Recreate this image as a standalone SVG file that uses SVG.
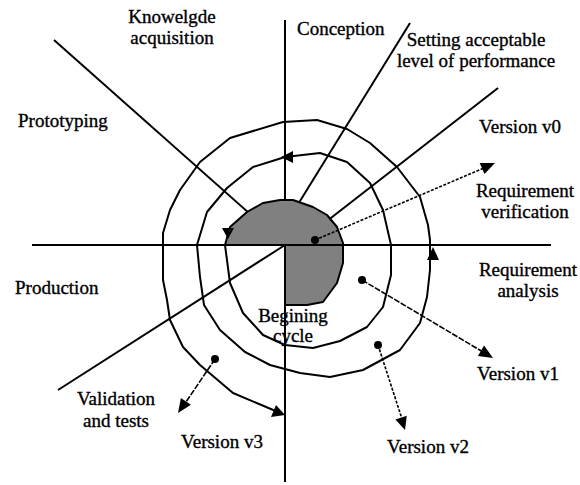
<svg xmlns="http://www.w3.org/2000/svg" width="580" height="485" viewBox="0 0 580 485">
<style>
  .ax { stroke:#000; stroke-width:2; fill:none; stroke-linecap:butt; }
  .ring { stroke:#000; stroke-width:2; fill:none; stroke-linejoin:round; }
  .dot { fill:#000; }
  .head { fill:#000; stroke:none; }
  .lead { stroke:#000; stroke-width:1.6; fill:none; }
  .dashed { stroke-dasharray:3 1.5; }
  .dashed2 { stroke-dasharray:6 1.5; }
  .lbl { font-family:"Liberation Serif","Times New Roman",serif; font-size:19px; fill:#000; stroke:#000; stroke-width:0.35; }
  .c { text-anchor:middle; }
</style>
<rect width="580" height="485" fill="#fff"/>
<g id="axes">
  <line class="ax" x1="285" y1="20" x2="285" y2="482"/>
  <line class="ax" x1="54" y1="40" x2="285" y2="245"/>
  <line class="ax" x1="410" y1="23" x2="292" y2="214"/>
  <line class="ax" x1="498" y1="88" x2="318" y2="228"/>
  <line class="ax" x1="58" y1="390" x2="285" y2="245"/>
</g>
<g id="spiral">
  <polyline class="ring" points="225,245 230,283 243,313 263,335 285,345 313,348 340,341 367,327 383,307 391,275 391,245 383,210 370,183 347,162 320,153 285,157 253,167 227,188 207,212 197,245 200,277 204,305 220,330 245,352 270,365 300,373 330,377 363,370 400,350 420,323 427,297 430,270 430,240 428,225 420,197 397,167 370,143 347,129 317,120 283,122 230,138 200,162 180,190 170,210 163,233 163,280 167,300 170,320 183,347 200,365 233,393 278,412"/>
</g>
<g id="begin-core">
  <path d="M285,245 L225,245 L230,227 L247,212 L263,203 L280,200 L293,200 L313,207 L327,215 L337,227 L343,243 L343,263 L337,283 L323,302 L307,305 L285,305 Z" fill="#808080" stroke="#000" stroke-width="2" stroke-linejoin="round"/>
</g>
<g id="axis-h">
  <line class="ax" x1="32" y1="245" x2="551" y2="245"/>
</g>
<g id="spiral-arrows">
  <polygon class="head" points="228,239 222,228 234,228"/>
  <polygon class="head" points="281,157 293,151 293,163"/>
  <polygon class="head" points="433,247 427,260 439,260"/>
  <polygon class="head" points="285,415 271,417 276,405"/>
</g>
<g id="connectors">
  <line class="lead dashed" x1="315" y1="240" x2="484" y2="168"/>
  <circle class="dot" cx="315" cy="240" r="4"/>
  <polygon class="head" points="495,163 484.5,174 479.7,163"/>
  <line class="lead dashed2" x1="362" y1="280" x2="483" y2="352"/>
  <circle class="dot" cx="362" cy="280" r="4"/>
  <polygon class="head" points="493,358 477.9,356 484.1,345.6"/>
  <line class="lead dashed" x1="378" y1="345" x2="402" y2="419"/>
  <circle class="dot" cx="378" cy="345" r="4"/>
  <polygon class="head" points="405,430 395.4,419.4 406.8,415.8"/>
  <line class="lead dashed2" x1="215" y1="359" x2="186" y2="402"/>
  <circle class="dot" cx="215" cy="359" r="4"/>
  <polygon class="head" points="178,413 180.9,398 190.9,404.8"/>
</g>
<g id="label-knowledge"><text class="lbl c" x="172" y="23">Knowelgde</text><text class="lbl c" x="172" y="44">acquisition</text></g>
<g id="label-conception"><text class="lbl" x="297" y="35">Conception</text></g>
<g id="label-setting"><text class="lbl c" x="476" y="46">Setting acceptable</text><text class="lbl c" x="476" y="67">level of performance</text></g>
<g id="label-prototyping"><text class="lbl" x="18" y="127">Prototyping</text></g>
<g id="label-v0"><text class="lbl c" x="520" y="133">Version v0</text></g>
<g id="label-verification"><text class="lbl c" x="525" y="197">Requirement</text><text class="lbl c" x="525" y="218">verification</text></g>
<g id="label-production"><text class="lbl" x="15" y="294">Production</text></g>
<g id="label-analysis"><text class="lbl c" x="528" y="276">Requirement</text><text class="lbl c" x="528" y="297">analysis</text></g>
<g id="label-begin"><text class="lbl c" x="293" y="322">Begining</text><text class="lbl c" x="293" y="342">cycle</text></g>
<g id="label-v1"><text class="lbl c" x="518" y="380">Version v1</text></g>
<g id="label-validation"><text class="lbl c" x="116" y="405">Validation</text><text class="lbl c" x="116" y="427">and tests</text></g>
<g id="label-v3"><text class="lbl c" x="222" y="448">Version v3</text></g>
<g id="label-v2"><text class="lbl c" x="428" y="453">Version v2</text></g>
</svg>
